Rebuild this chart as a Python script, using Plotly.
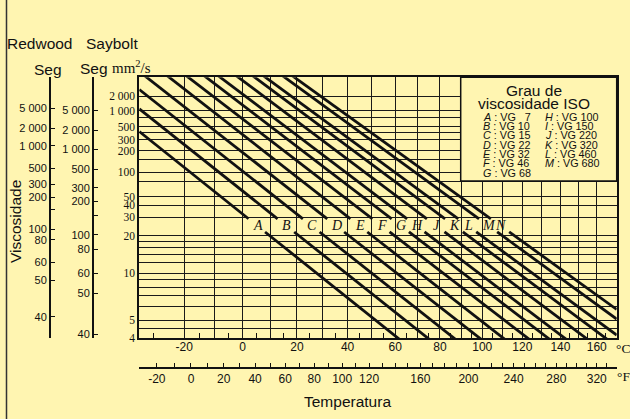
import numpy as np
import plotly.graph_objects as go

# ---------------- data ----------------
grade_letters = ["A", "B", "C", "D", "E", "F", "G", "H", "J", "K", "L", "M", "N"]
visc_at_40C = [6.8, 9.8, 14.0, 20.5, 30.5, 46.0, 68.0, 95.0, 150.0, 235.0, 325.0, 580.0, 800.0]
visc_at_100C = [2.0, 2.5, 3.1, 3.9, 4.9, 6.3, 7.9, 9.6, 12.5, 16.2, 19.8, 27.5, 33.5]

iso_left_letters = ["A", "B", "C", "D", "E", "F", "G"]
iso_left_grades = ["7", "10", "15", "22", "32", "46", "68"]
iso_right_letters = ["H", "I", "J", "K", "L", "M"]
iso_right_grades = ["100", "150", "220", "320", "460", "680"]

cst_tick_values = [4, 5, 10, 20, 30, 40, 50, 100, 200, 300, 500, 1000, 2000]
cst_tick_labels = ["4", "5", "10", "20", "30", "40", "50", "100", "200", "300", "500", "1 000", "2 000"]
cst_grid_values = [4.5, 6, 7, 8, 9, 12, 14, 16, 18, 75, 150, 400, 750]

redwood_labels = ["5 000", "2 000", "1 000", "500", "300", "200", "100", "80", "60", "50", "40"]
redwood_cst = [1110, 467, 238, 112.3, 69.7, 49.0, 23.0, 18.4, 12.0, 8.94, 5.23]
redwood_unlabeled_cst = [36.5]
saybolt_labels = ["5 000", "2 000", "1 000", "500", "300", "200", "100", "80", "60", "50", "40"]
saybolt_cst = [1026, 436.4, 213.2, 108.8, 63.4, 44.5, 20.4, 15.3, 9.98, 7.27, 4.18]
saybolt_unlabeled_cst = [31.6]

celsius_grid = list(range(-20, 161, 10))
celsius_labels = list(range(-20, 161, 20))
celsius_minor = [-30] + list(range(-15, 166, 10))
fahrenheit_ticks = list(range(-30, 331, 10))
fahrenheit_labels = [-20, 0, 20, 40, 60, 80, 100, 120, 160, 200, 240, 280, 320]

celsius_limits = [-34.4, 171.4]
cst_limits = [4, 5450]


# ---------------- ASTM-type scales ----------------
def t_x(c):
    return np.log10(np.asarray(c, dtype=float) + 273.15)


def f_to_c(f):
    return (np.asarray(f, dtype=float) - 32.0) * 5.0 / 9.0


def t_y(v):
    return np.log10(np.log10(np.asarray(v, dtype=float) + 0.7))


W, H = 630, 419
PL, PR, PT, PB = 139.3, 616.7, 77.3, 338.0
BG = "#FFF5B1"
INK = "#111111"
GRID = "#1a1a1a"
SANS = "Liberation Sans, Arial, sans-serif"
NARROW = "Liberation Sans Narrow, Arial Narrow, Liberation Sans, Arial"
SERIF = "Liberation Serif, Times New Roman, serif"

X_RANGE = [float(v) for v in t_x(celsius_limits)]
Y_RANGE = [float(v) for v in t_y(cst_limits)]


def px(x):
    return x / W


def py(y):
    return 1 - y / H


fig = go.Figure()

# ---------------- grade lines ----------------
x40, x100 = float(t_x(40)), float(t_x(100))
gap_hi, gap_lo = float(t_y(29.0)), float(t_y(21.7))
label_ll = float(t_y(24.7))
annotations = []
for letter, v40, v100 in zip(grade_letters, visc_at_40C, visc_at_100C):
    y40, y100 = float(t_y(v40)), float(t_y(v100))
    m = (y100 - y40) / (x100 - x40)

    def inv(yy):
        return x40 + (yy - y40) / m

    xs = [X_RANGE[0], inv(gap_hi), None, inv(gap_lo), X_RANGE[1]]
    ys = [y40 + m * (X_RANGE[0] - x40), gap_hi, None, gap_lo, y40 + m * (X_RANGE[1] - x40)]
    fig.add_trace(go.Scatter(x=xs, y=ys, mode="lines", line=dict(color=INK, width=2.8),
                             hoverinfo="skip", showlegend=False, connectgaps=False))
    annotations.append(dict(x=inv(label_ll), y=label_ll, xref="x", yref="y",
                            text="<i>%s</i>" % letter, showarrow=False,
                            font=dict(family=SERIF, size=14, color=INK)))

# dummy traces so that the extra axes are drawn
for xa, ya in [("x", "y2"), ("x", "y3"), ("x2", "y"), ("x3", "y")]:
    fig.add_trace(go.Scatter(x=[X_RANGE[0]], y=[Y_RANGE[0]], xaxis=xa, yaxis=ya,
                             mode="markers", marker=dict(opacity=0), hoverinfo="skip",
                             showlegend=False))


# ---------------- texts ----------------
def txt(x, y, s, size, family=SANS, angle=0, xanchor="center"):
    annotations.append(dict(x=px(x), y=py(y), xref="paper", yref="paper", text=s,
                            showarrow=False, textangle=angle, xanchor=xanchor,
                            yanchor="middle", font=dict(family=family, size=size, color=INK)))


txt(39.7, 43, "Redwood", 15.5)
txt(112.2, 43, "Saybolt", 15.5)
txt(47.5, 69.5, "Seg", 15.5)
txt(93.8, 68.5, "Seg", 15.5)
txt(131, 67.5, "mm<sup>2</sup>/s", 15, family=SERIF)
txt(15, 222, "Viscosidade", 15.5, angle=-90)
txt(347.5, 401.5, "Temperatura", 15.5)
txt(623.3, 348, "°C", 13.5, family=SERIF)
txt(623.5, 376.5, "°F", 13.5, family=SERIF)

# legend box
txt(534, 90.5, "Grau de", 15.5)
txt(534, 103.5, "viscosidade ISO", 15.5)
for i, (lt, g) in enumerate(zip(iso_left_letters, iso_left_grades)):
    g_txt = ("\u2007" + g) if len(g) == 1 else g
    txt(481, 116.7 + i * 9.35, "<i>%s</i> : VG %s" % (lt, g_txt), 10.8, xanchor="left")
for i, (lt, g) in enumerate(zip(iso_right_letters, iso_right_grades)):
    txt(543, 116.7 + i * 9.35, "<i>%s</i> : VG %s" % (lt, g), 10.8, xanchor="left")

shapes = [
    dict(type="rect", xref="paper", yref="paper", x0=px(460.7), x1=px(PR), y0=py(181), y1=py(PT),
         line=dict(color=INK, width=1.5), fillcolor=BG, layer="above"),
    dict(type="line", xref="paper", yref="paper", x0=px(6.5), x1=px(6.5), y0=0, y1=1,
         line=dict(color="#333333", width=1.5)),
]

fig.update_layout(
    width=W, height=H, margin=dict(l=0, r=0, t=0, b=0),
    paper_bgcolor=BG, plot_bgcolor=BG, showlegend=False,
    annotations=annotations, shapes=shapes,
    # Celsius grid + minor ticks
    xaxis=dict(domain=[px(PL), px(PR)], range=X_RANGE, tickmode="array",
               tickvals=t_x(celsius_grid), showticklabels=False,
               showgrid=True, gridcolor=GRID, gridwidth=1.3, zeroline=False,
               showline=True, linecolor=INK, linewidth=2, mirror=True,
               ticks="inside", ticklen=0,
               minor=dict(tickmode="array", tickvals=t_x(celsius_minor), ticks="inside",
                          ticklen=5, tickwidth=1.3, tickcolor=INK, showgrid=False),
               automargin=False, fixedrange=True),
    # Celsius labels
    xaxis3=dict(overlaying="x", anchor="y", side="bottom", range=X_RANGE, tickmode="array",
                tickvals=t_x(celsius_labels), ticktext=[str(c) for c in celsius_labels],
                showgrid=False, zeroline=False, showline=False, ticks="",
                tickfont=dict(family=NARROW, size=12, color=INK),
                automargin=False, fixedrange=True),
    # Fahrenheit scale
    xaxis2=dict(overlaying="x", anchor="free", position=py(368), side="bottom",
                range=X_RANGE, tickmode="array",
                tickvals=t_x(f_to_c(fahrenheit_labels)),
                ticktext=[str(f) for f in fahrenheit_labels],
                showgrid=False, zeroline=False, showline=True, linecolor=INK, linewidth=2,
                ticks="inside", ticklen=4, tickwidth=1.3, tickcolor=INK,
                minor=dict(tickmode="array",
                           tickvals=t_x(f_to_c([f for f in fahrenheit_ticks if f not in fahrenheit_labels])),
                           ticks="inside", ticklen=4, tickwidth=1.3, tickcolor=INK, showgrid=False),
                tickfont=dict(family=NARROW, size=12, color=INK),
                automargin=False, fixedrange=True),
    yaxis=dict(domain=[py(PB), py(PT)], range=Y_RANGE, tickmode="array",
               tickvals=t_y(cst_tick_values), ticktext=cst_tick_labels,
               showgrid=True, gridcolor=GRID, gridwidth=1.3, zeroline=False,
               showline=True, linecolor=INK, linewidth=2, mirror=True, ticks="",
               tickfont=dict(family=SERIF, size=11.5, color=INK),
               minor=dict(tickmode="array", tickvals=t_y(cst_grid_values), showgrid=True,
                          gridcolor=GRID, gridwidth=1.3, ticks=""),
               automargin=False, fixedrange=True),
    yaxis2=dict(overlaying="y", anchor="free", position=px(50), side="left", range=Y_RANGE,
                tickmode="array", tickvals=t_y(redwood_cst), ticktext=redwood_labels,
                showgrid=False, zeroline=False, showline=True, linecolor=INK, linewidth=2,
                ticks="inside", ticklen=4, tickwidth=1.3, tickcolor=INK,
                minor=dict(tickmode="array", tickvals=t_y(redwood_unlabeled_cst), ticks="inside",
                           ticklen=4, tickwidth=1.3, tickcolor=INK, showgrid=False),
                tickfont=dict(family=SANS, size=11, color=INK), automargin=False, fixedrange=True),
    yaxis3=dict(overlaying="y", anchor="free", position=px(93), side="left", range=Y_RANGE,
                tickmode="array", tickvals=t_y(saybolt_cst), ticktext=saybolt_labels,
                showgrid=False, zeroline=False, showline=True, linecolor=INK, linewidth=2,
                ticks="inside", ticklen=4, tickwidth=1.3, tickcolor=INK,
                minor=dict(tickmode="array", tickvals=t_y(saybolt_unlabeled_cst), ticks="inside",
                           ticklen=4, tickwidth=1.3, tickcolor=INK, showgrid=False),
                tickfont=dict(family=SANS, size=11, color=INK), automargin=False, fixedrange=True),
)

fig.write_html("out.html", config={"displayModeBar": False},
               post_script="document.body.style.margin='0';document.body.style.overflow='hidden';")
